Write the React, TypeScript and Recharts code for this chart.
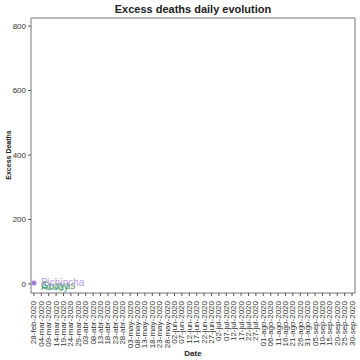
import React from 'react';
import {
  ComposedChart,
  Scatter,
  XAxis,
  YAxis,
  ReferenceArea,
  LabelList
} from 'recharts';

const tickLabels = [
  '28-feb-2020', '04-mar-2020', '09-mar-2020', '14-mar-2020', '19-mar-2020', '24-mar-2020',
  '29-mar-2020', '03-abr-2020', '08-abr-2020', '13-abr-2020', '18-abr-2020', '23-abr-2020',
  '28-abr-2020', '03-may-2020', '08-may-2020', '13-may-2020', '18-may-2020', '23-may-2020',
  '28-may-2020', '02-jun-2020', '07-jun-2020', '12-jun-2020', '17-jun-2020', '22-jun-2020',
  '27-jun-2020', '02-jul-2020', '07-jul-2020', '12-jul-2020', '17-jul-2020', '22-jul-2020',
  '27-jul-2020', '01-ago-2020', '06-ago-2020', '11-ago-2020', '16-ago-2020', '21-ago-2020',
  '26-ago-2020', '31-ago-2020', '05-sep-2020', '10-sep-2020', '15-sep-2020', '20-sep-2020',
  '25-sep-2020', '30-sep-2020'
];
const tickDays = tickLabels.map((_, i) => i * 5);

const yTicks = [0, 200, 400, 600, 800];

// days since 28-feb-2020
const days = [0];
const pichincha = [3];
const guayas = [1];
const azuay = [0];

const FONT = 'Liberation Sans, Arial, sans-serif';

const toRows = (vals: number[], name: string) =>
  days.map((d, i) => ({ day: d, value: vals[i], name }));

const XTick = (props: any) => {
  const { x, y, payload } = props;
  const idx = tickDays.indexOf(payload.value);
  return (
    <text
      x={x}
      y={y + 3}
      transform={`rotate(-90, ${x}, ${y + 3})`}
      textAnchor="end"
      dominantBaseline="central"
      fontSize={8}
      fill="#333"
      fontFamily={FONT}
    >
      {tickLabels[idx]}
    </text>
  );
};

const makeLabel = (color: string, dy: number) => (props: any) => {
  const { x, y, width, height, value } = props;
  const cx = x + (width || 0) / 2;
  const cy = y + (height || 0) / 2;
  return (
    <text x={cx + 7} y={cy + dy} fontSize={10} fill={color} fontFamily={FONT}>
      {value}
    </text>
  );
};

const App: React.FC = () => {
  return (
    <div style={{ position: 'absolute', left: 0, top: 0, width: 360, height: 360, background: '#fff' }}>
      <ComposedChart
        width={360}
        height={360}
        margin={{ top: 18, right: 5, left: 8, bottom: 0 }}
        style={{ fontFamily: FONT }}
      >
        <XAxis
          type="number"
          dataKey="day"
          domain={[-2, 217]}
          ticks={tickDays}
          interval={0}
          tick={<XTick />}
          tickSize={3}
          height={67}
          axisLine={false}
          tickLine={{ stroke: '#555' }}
          allowDataOverflow
          label={{ value: 'Date', position: 'insideBottom', offset: 4, fontSize: 8, fontWeight: 'bold', fill: '#222' }}
        />
        <YAxis
          type="number"
          dataKey="value"
          domain={[-28, 825]}
          ticks={yTicks}
          width={23}
          tickSize={3}
          axisLine={false}
          tickLine={{ stroke: '#555' }}
          allowDataOverflow
          tick={{ fontSize: 8, fill: '#333' }}
        />
        <ReferenceArea x1={-2} x2={217} y1={-28} y2={825} fill="none" stroke="#777" strokeWidth={1} ifOverflow="extendDomain" />
        <Scatter data={toRows(azuay, 'Azuay')} fill="#2aa198" isAnimationActive={false} shape={() => null}>
          <LabelList dataKey="name" content={makeLabel('#3aa6a0', 6)} />
        </Scatter>
        <Scatter data={toRows(guayas, 'Guayas')} fill="#6aa84f" isAnimationActive={false} shape={() => null}>
          <LabelList dataKey="name" content={makeLabel('#5f9e55', 5)} />
        </Scatter>
        <Scatter data={toRows(pichincha, 'Pichincha')} fill="#a07cd8" isAnimationActive={false}
          shape={(p: any) => <circle cx={p.cx} cy={p.cy} r={2.5} fill="#a07cd8" />}>
          <LabelList dataKey="name" content={makeLabel('#b79be3', 3)} />
        </Scatter>
      </ComposedChart>
      <svg width={360} height={360} style={{ position: 'absolute', left: 0, top: 0, pointerEvents: 'none' }}>
        <text x={193} y={13} textAnchor="middle" fontSize={11} fontWeight="bold" fill="#222" fontFamily={FONT}>
          Excess deaths daily evolution
        </text>
        <text x={11} y={155} transform="rotate(-90, 11, 155)" textAnchor="middle" fontSize={7} fontWeight="bold" fill="#222" fontFamily={FONT}>
          Excess Deaths
        </text>
      </svg>
    </div>
  );
};

export default App;
